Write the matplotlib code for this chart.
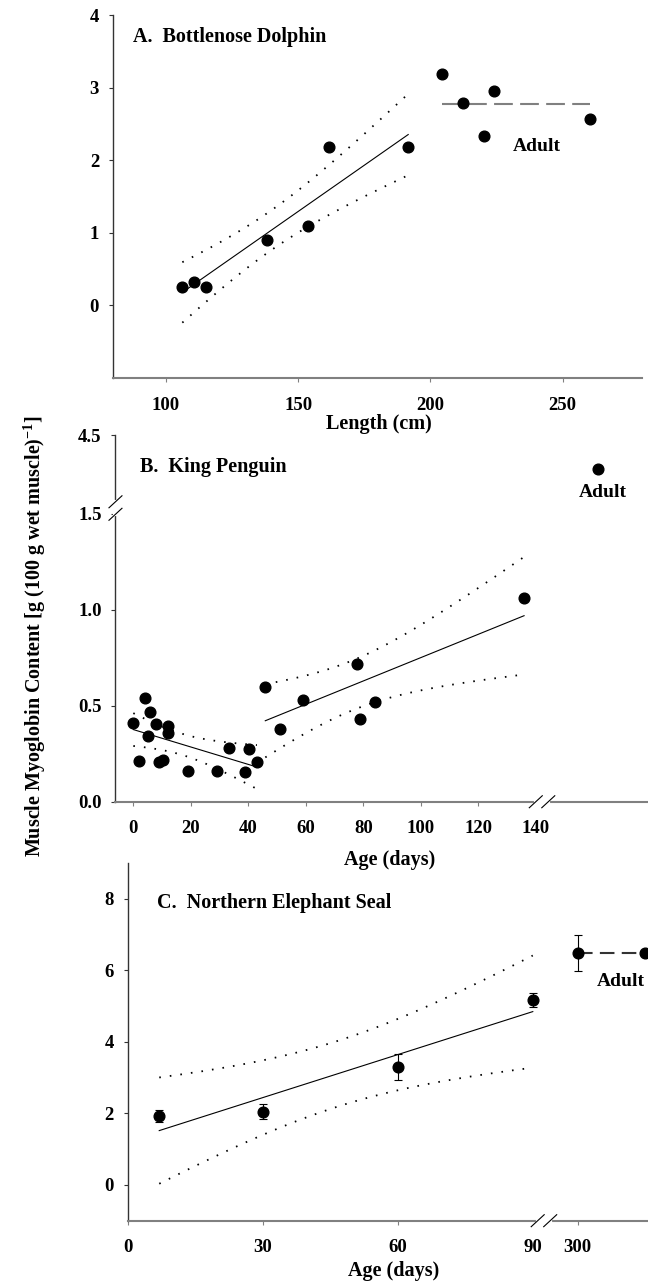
"""Muscle myoglobin development in a dolphin, a penguin and a seal (three stacked panels)."""

import numpy as np
import matplotlib
matplotlib.use('Agg')
import matplotlib.pyplot as plt

# ---- data ----
# A. bottlenose dolphin, myoglobin vs body length
dolphin_len = [106.2, 110.5, 115.1, 138.3, 153.6, 161.8, 191.6]
dolphin_mb = [0.26, 0.32, 0.26, 0.90, 1.10, 2.18, 2.18]
dolphin_adult_len = [204.4, 212.5, 220.4, 224.1, 260.5]
dolphin_adult_mb = [3.19, 2.79, 2.33, 2.96, 2.57]

# B. king penguin, two growth phases + one adult value
penguin_age_early = [0, 2, 4.2, 5.1, 5.9, 8, 9, 10.3, 12, 12, 19, 29, 33.2, 39, 40.1, 43]
penguin_mb_early = [0.408, 0.212, 0.539, 0.342, 0.469, 0.403, 0.208, 0.217,
                    0.394, 0.359, 0.160, 0.160, 0.278, 0.153, 0.273, 0.208]
penguin_age_late = [45.9, 51.0, 59.0, 77.9, 78.9, 84.0, 135.9]
penguin_mb_late = [0.599, 0.379, 0.530, 0.719, 0.431, 0.521, 1.059]
penguin_adult_pos = [161.5]   # where the "Adult" category sits on the axis
penguin_adult_mb = [3.2]

# C. northern elephant seal, means +- error
seal_age = [7, 30, 60, 90]
seal_mb = [1.93, 2.05, 3.30, 5.18]
seal_err = [0.18, 0.21, 0.35, 0.20]
seal_adult_age = [300, 315]
seal_adult_mb = [6.48, 6.48]
seal_adult_err = [0.5, 0.0]

# multipliers for the confidence bands (matched to the dotted curves)
BAND_T = {'A': 2.31, 'B1': 2.145, 'B2': 2.31, 'C': 3.5}

plt.rcParams['font.family'] = ['Liberation Serif', 'DejaVu Serif']
plt.rcParams['font.weight'] = 'bold'
plt.rcParams['axes.labelweight'] = 'bold'
plt.rcParams['font.size'] = 13.5
plt.rcParams['mathtext.fontset'] = 'custom'
plt.rcParams['mathtext.rm'] = 'Liberation Serif:bold'
plt.rcParams['mathtext.it'] = 'Liberation Serif:bold'

MS = 7.7


def fit_band(x, y, t):
    """OLS line and confidence band over the range of x."""
    x = np.asarray(x, float)
    y = np.asarray(y, float)
    slope, icpt = np.polyfit(x, y, 1)
    xs = np.linspace(x.min(), x.max(), 200)
    fit = icpt + slope * xs
    resid = y - (icpt + slope * x)
    s = np.sqrt((resid ** 2).sum() / (len(x) - 2))
    se = s * np.sqrt(1 / len(x) + (xs - x.mean()) ** 2 / ((x - x.mean()) ** 2).sum())
    return xs, fit, fit - t * se, fit + t * se


def draw_fit(ax, x, y, t):
    xs, fit, lo, hi = fit_band(x, y, t)
    ax.plot(xs, fit, color='k', lw=0.8, zorder=2)
    for band in (lo, hi):
        ax.plot(xs, band, color='k', lw=1.3, linestyle=(0, (0.9, 5.0)), zorder=2)


def style_axes(ax):
    ax.patch.set_visible(False)
    for side in ('top', 'right'):
        ax.spines[side].set_visible(False)
    ax.spines['left'].set_color('#333333')
    ax.spines['left'].set_linewidth(1.0)
    ax.spines['bottom'].set_color('#808080')
    ax.spines['bottom'].set_linewidth(1.5)
    ax.tick_params(axis='y', direction='out', length=3, width=0.8, color='#333333', pad=7)
    ax.tick_params(axis='x', direction='out', length=3, width=0.8, color='#808080', pad=10.5)


def axis_break(ax, frac, which):
    """Two '/' marks across a spine at axes fraction frac."""
    fig = ax.figure
    bb = ax.get_position()
    px = 1 / (bb.width * fig.get_figwidth() * fig.dpi)
    py = 1 / (bb.height * fig.get_figheight() * fig.dpi)
    kw = dict(transform=ax.transAxes, clip_on=False)
    if which == 'x':
        ax.plot([frac - 6 * px, frac + 6 * px], [0, 0], color='white', lw=3, zorder=5, **kw)
        for c in (-6.25, 6.25):
            xc = frac + c * px
            ax.plot([xc - 6.5 * px, xc + 6.5 * px], [-6 * py, 6 * py], color='k', lw=0.8, zorder=6, **kw)
    else:
        ax.plot([0, 0], [frac - 6 * py, frac + 6 * py], color='white', lw=3, zorder=5, **kw)
        for c in (-6.25, 6.25):
            yc = frac + c * py
            ax.plot([-6.5 * px, 6.5 * px], [yc - 6 * py, yc + 6 * py], color='k', lw=0.8, zorder=6, **kw)


fig = plt.figure(figsize=(6.48, 12.83), dpi=100)

# ---------------- A ----------------
axA = fig.add_axes([0.1744, 0.7054, 0.8164, 0.2829])
style_axes(axA)
draw_fit(axA, dolphin_len, dolphin_mb, BAND_T['A'])
axA.plot([min(dolphin_adult_len), max(dolphin_adult_len)], [np.mean(dolphin_adult_mb)] * 2,
         color='#808080', lw=1.5, linestyle=(0, (9, 3.5)), zorder=2)
axA.plot(dolphin_len, dolphin_mb, 'o', color='k', ms=MS, zorder=3)
axA.plot(dolphin_adult_len, dolphin_adult_mb, 'o', color='k', ms=MS, zorder=3)
axA.set_xlim(80, 280)
axA.set_ylim(-1, 4)
axA.set_xticks([100, 150, 200, 250])
axA.set_yticks([0, 1, 2, 3, 4])
axA.text(0.038, 0.940, 'A.  Bottlenose Dolphin', transform=axA.transAxes,
         fontsize=14.5, va='center', ha='left')
axA.text(231, 2.19, 'Adult', fontsize=14, va='center', ha='left')
axA.set_xlabel('Length (cm)', fontsize=14.5)
axA.xaxis.set_label_coords(0.503, -0.127)
axA.xaxis.label.set_va('center')

# ---------------- B ----------------
K_B = 0.41 / 3.0


def fwd_b(y):
    y = np.asarray(y, float)
    return np.where(y <= 1.5, y, 1.5 + (y - 1.5) * K_B)


def inv_b(v):
    v = np.asarray(v, float)
    return np.where(v <= 1.5, v, 1.5 + (v - 1.5) / K_B)


axB = fig.add_axes([0.1782, 0.3751, 0.8218, 0.2858])
style_axes(axB)
axB.set_yscale('function', functions=(fwd_b, inv_b))
draw_fit(axB, penguin_age_early, penguin_mb_early, BAND_T['B1'])
draw_fit(axB, penguin_age_late, penguin_mb_late, BAND_T['B2'])
axB.plot(penguin_age_early, penguin_mb_early, 'o', color='k', ms=MS, zorder=3)
axB.plot(penguin_age_late, penguin_mb_late, 'o', color='k', ms=MS, zorder=3)
axB.plot(penguin_adult_pos, penguin_adult_mb, 'o', color='k', ms=MS, zorder=3)
axB.set_xlim(-6.2, 179)
axB.set_ylim(0, 4.5)
axB.set_yticks([0, 0.5, 1.0, 1.5, 4.5])
axB.set_yticklabels(['0.0', '0.5', '1.0', '1.5', '4.5'])
axB.yaxis.set_minor_locator(matplotlib.ticker.NullLocator())
axB.set_xticks([0, 20, 40, 60, 80, 100, 120, 140])
axB.xaxis.get_major_ticks()[-1].tick1line.set_visible(False)
axB.text(0.046, 0.9135, 'B.  King Penguin', transform=axB.transAxes,
         fontsize=14.5, va='center', ha='left')
axB.text(0.9145, 0.8437, 'Adult', transform=axB.transAxes, fontsize=14, va='center', ha='center')
axB.set_xlabel('Age (days)', fontsize=14.5)
axB.xaxis.set_label_coords(0.515, -0.159)
axB.xaxis.label.set_va('center')

# ---------------- C ----------------


def fwd_c(x):
    x = np.asarray(x, float)
    return np.where(x <= 90, x, np.where(x <= 300, 90 + (x - 90) * 10 / 210, x - 200))


def inv_c(v):
    v = np.asarray(v, float)
    return np.where(v <= 90, v, np.where(v <= 100, 90 + (v - 90) * 21, v + 200))


axC = fig.add_axes([0.1971, 0.04856, 0.8029, 0.2786])
style_axes(axC)
axC.set_xscale('function', functions=(fwd_c, inv_c))
draw_fit(axC, seal_age, seal_mb, BAND_T['C'])
axC.plot(seal_adult_age, seal_adult_mb, color='#333333', lw=1.5,
         linestyle=(0, (7, 3.5)), zorder=2, clip_on=False)
axC.errorbar(seal_age, seal_mb, yerr=seal_err, fmt='o', color='k', ms=MS,
             capsize=3, elinewidth=0.8, capthick=0.8, zorder=3)
axC.errorbar(seal_adult_age, seal_adult_mb, yerr=seal_adult_err, fmt='o', color='k', ms=MS,
             capsize=3, elinewidth=0.8, capthick=0.8, zorder=3, clip_on=False)
axC.set_xlim(0, 315.6)
axC.set_ylim(-1, 9)
axC.set_xticks([0, 30, 60, 90, 300])
axC.xaxis.set_minor_locator(matplotlib.ticker.NullLocator())
axC.xaxis.get_major_ticks()[3].tick1line.set_visible(False)
axC.set_yticks([0, 2, 4, 6, 8])
axC.text(0.0557, 0.888, 'C.  Northern Elephant Seal', transform=axC.transAxes,
         fontsize=14.5, va='center', ha='left')
axC.text(0.9014, 0.6687, 'Adult', transform=axC.transAxes, fontsize=14, va='center', ha='left')
axC.set_xlabel('Age (days)', fontsize=14.5)
axC.xaxis.set_label_coords(0.512, -0.140)
axC.xaxis.label.set_va('center')

axis_break(axB, 0.801, 'y')
axis_break(axB, 0.801, 'x')
axis_break(axC, 0.800, 'x')

fig.text(35 / 648, 1 - 636 / 1283, 'Muscle Myoglobin Content [g (100 g wet muscle)$^{-1}$]',
         rotation=90, ha='center', va='center', fontsize=14.5)

fig.savefig('out.png', dpi=100)
